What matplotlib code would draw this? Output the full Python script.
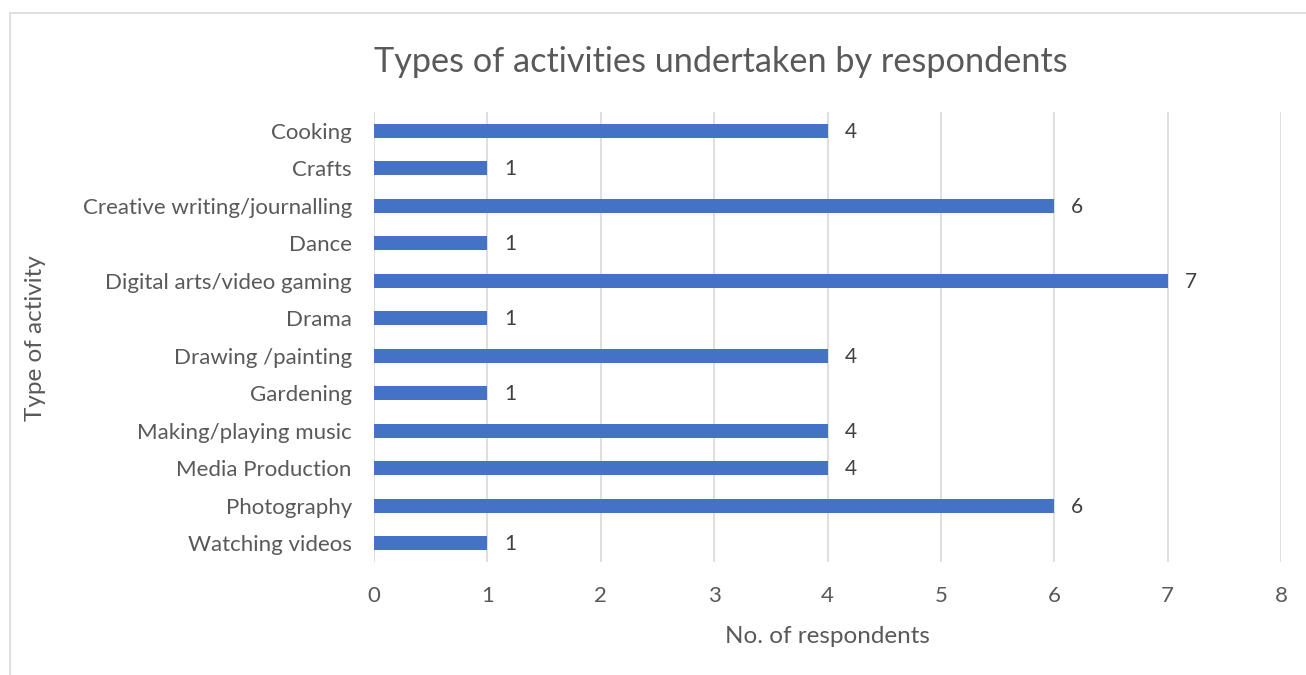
import matplotlib
matplotlib.use("Agg")
import matplotlib.pyplot as plt
from matplotlib.patches import Rectangle

categories = ["Cooking", "Crafts", "Creative writing/journalling", "Dance",
              "Digital arts/video gaming", "Drama", "Drawing /painting", "Gardening",
              "Making/playing music", "Media Production", "Photography", "Watching videos"]
values = [4, 1, 6, 1, 7, 1, 4, 1, 4, 4, 6, 1]
xticks = [0, 1, 2, 3, 4, 5, 6, 7, 8]

W, H = 1306, 675
plt.rcParams['font.family'] = ['Lato', 'DejaVu Sans']
fig = plt.figure(figsize=(W / 100, H / 100), dpi=100)
txt = '#595959'

# outer chart border (right/bottom cropped in the reference)
fig.patches.append(Rectangle((10 / W, -0.05), 1.2, 1 - 13 / H + 0.05,
                             transform=fig.transFigure, fill=False,
                             edgecolor='#d9d9d9', linewidth=1.2))

left, right, top, bottom = 374, 1281, 112, 562
ax = fig.add_axes([left / W, 1 - bottom / H, (right - left) / W, (bottom - top) / H])

n = len(categories)
ypos = list(range(n))
ax.barh(ypos, values, height=0.37, color='#4472C4', zorder=3)
for y, v in zip(ypos, values):
    ax.annotate(str(v), (v, y), xytext=(17, -1), textcoords='offset pixels',
                va='center', ha='left', fontsize=15, color='#404040')

ax.set_xlim(0, 8)
ax.set_ylim(n - 0.5, -0.5)
ax.set_xticks(xticks)
ax.set_xticklabels([str(t) for t in xticks])
ax.set_yticks(ypos)
ax.set_yticklabels(categories)
ax.grid(axis='x', color='#d9d9d9', linewidth=1.2, zorder=0)
ax.tick_params(axis='both', length=0, labelsize=16, colors=txt)
ax.tick_params(axis='x', pad=17)
ax.tick_params(axis='y', pad=16)
for s in ax.spines.values():
    s.set_visible(False)

ax.set_xlabel("No. of respondents", fontsize=17.5, color=txt, labelpad=15)
fig.text(36 / W, 1 - 338 / H, "Type of activity", rotation=90, ha='center', va='center',
         fontsize=17.5, color=txt)
fig.text(721 / W, 1 - 62 / H, "Types of activities undertaken by respondents",
         ha='center', va='center', fontsize=24.7, color=txt)

fig.savefig("out.png", dpi=100)
